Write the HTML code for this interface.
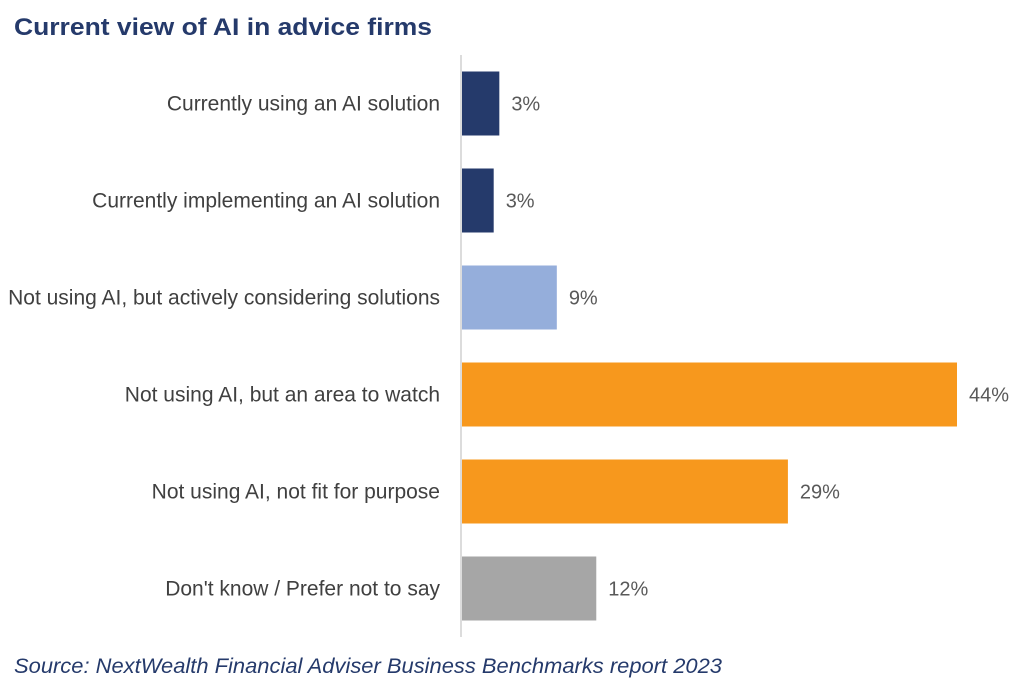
<!DOCTYPE html>
<html><head><meta charset="utf-8"><style>
body{margin:0;background:#fff;width:1024px;height:695px;overflow:hidden;font-family:"Liberation Sans",sans-serif}
</style></head><body>
<svg width="1024" height="695">
<text x="14" y="35" font-size="24" font-weight="bold" fill="#253a6b" textLength="418" lengthAdjust="spacingAndGlyphs">Current view of AI in advice firms</text>
<line x1="461" y1="55" x2="461" y2="637" stroke="#d0d0d0" stroke-width="1.5"/>
<g id="bars"></g>
<text x="14" y="673" font-size="21" font-style="italic" fill="#253a6b" textLength="708" lengthAdjust="spacingAndGlyphs">Source: NextWealth Financial Adviser Business Benchmarks report 2023</text>
</svg>
<script>
const categories=["Currently using an AI solution","Currently implementing an AI solution","Not using AI, but actively considering solutions","Not using AI, but an area to watch","Not using AI, not fit for purpose","Don't know / Prefer not to say"];
const values=[3.4,2.9,8.5,44,29,12];
const valueLabels=["3%","3%","9%","44%","29%","12%"];
const colors=["#253a6b","#253a6b","#95aedb","#f7981d","#f7981d","#a6a6a6"];
const x0=461, pxPer=496/44, top0=55, band=97, barH=64;
const xs=v=>x0+v*pxPer;
const ys=i=>top0+i*band+(band-barH)/2;
const g=document.getElementById('bars');
const NS="http://www.w3.org/2000/svg";
categories.forEach((c,i)=>{
  const r=document.createElementNS(NS,'rect');
  r.setAttribute('x',x0+1);r.setAttribute('y',ys(i));
  r.setAttribute('width',xs(values[i])-x0-1);r.setAttribute('height',barH);
  r.setAttribute('fill',colors[i]);
  
  
  g.appendChild(r);
  const t=document.createElementNS(NS,'text');
  t.setAttribute('x',440);t.setAttribute('y',ys(i)+barH/2+7);
  t.setAttribute('text-anchor','end');t.setAttribute('font-size','21');t.setAttribute('fill','#404040');
  t.textContent=c;
  
  
  g.appendChild(t);
  const v=document.createElementNS(NS,'text');
  v.setAttribute('x',xs(values[i])+12);v.setAttribute('y',ys(i)+barH/2+7);
  v.setAttribute('font-size','20');v.setAttribute('fill','#595959');
  v.textContent=valueLabels[i];
  
  
  g.appendChild(v);
});
</script>
</body></html>
